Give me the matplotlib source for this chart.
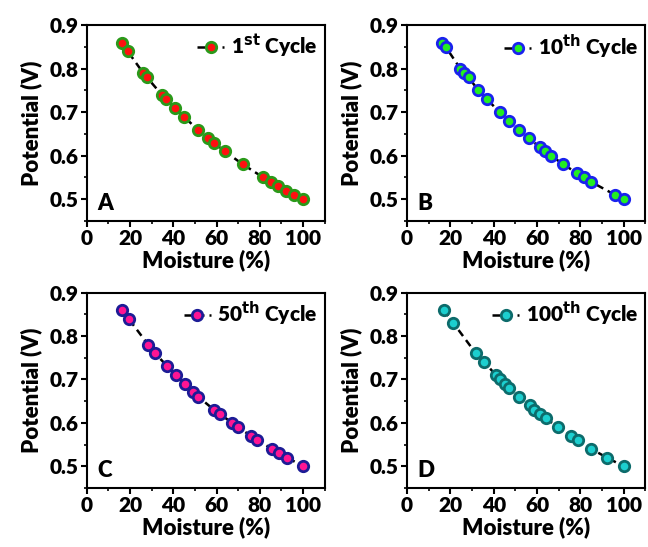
import matplotlib
matplotlib.use("Agg")
import matplotlib.pyplot as plt
from matplotlib.ticker import MultipleLocator

plt.rcParams['font.family'] = ['Lato', 'DejaVu Sans']
plt.rcParams['font.weight'] = 'heavy'
plt.rcParams['mathtext.default'] = 'bf'

# 1st cycle
x_1 = [16.1, 18.9, 26.1, 27.8, 34.7, 36.5, 40.7, 44.9, 51.2, 56.1, 58.6, 63.8,
       72.2, 81.6, 85.0, 88.5, 92.0, 95.7, 100]
y_1 = [0.86, 0.84, 0.79, 0.78, 0.74, 0.73, 0.71, 0.69, 0.66, 0.64, 0.63, 0.61,
       0.58, 0.55, 0.54, 0.53, 0.52, 0.51, 0.50]

# 10th cycle
x_10 = [16.0, 17.9, 24.6, 26.4, 28.4, 33.0, 36.9, 42.7, 47.0, 51.6, 56.2, 61.2,
        63.8, 66.6, 72.1, 78.5, 81.7, 84.9, 96.0, 100]
y_10 = [0.86, 0.85, 0.80, 0.79, 0.78, 0.75, 0.73, 0.70, 0.68, 0.66, 0.64, 0.62,
        0.61, 0.60, 0.58, 0.56, 0.55, 0.54, 0.51, 0.50]

# 50th cycle
x_50 = [16.1, 19.3, 28.4, 31.6, 37.3, 41.1, 45.2, 49.2, 51.6, 58.8, 61.5, 67.3,
        69.7, 76.0, 78.8, 85.7, 88.8, 92.6, 100]
y_50 = [0.86, 0.84, 0.78, 0.76, 0.73, 0.71, 0.69, 0.67, 0.66, 0.63, 0.62, 0.60,
        0.59, 0.57, 0.56, 0.54, 0.53, 0.52, 0.50]

# 100th cycle
x_100 = [16.9, 21.4, 31.8, 35.7, 41.0, 43.0, 45.1, 47.3, 51.8, 56.7, 58.8, 61.4,
         64.0, 69.9, 75.6, 78.7, 85.1, 92.1, 100]
y_100 = [0.86, 0.83, 0.76, 0.74, 0.71, 0.70, 0.69, 0.68, 0.66, 0.64, 0.63, 0.62,
         0.61, 0.59, 0.57, 0.56, 0.54, 0.52, 0.50]

x_ticks = [0, 20, 40, 60, 80, 100]
y_ticks = [0.5, 0.6, 0.7, 0.8, 0.9]

panels = [
    # (rect, x, y, label, letter, face, edge)
    ([0.134, 0.596, 0.367, 0.358], x_1, y_1, r'1$^{\mathbf{st}}$ Cycle', 'A', '#ff1010', '#2a9a1a'),
    ([0.628, 0.596, 0.368, 0.358], x_10, y_10, r'10$^{\mathbf{th}}$ Cycle', 'B', '#22ee22', '#1a22ee'),
    ([0.134, 0.108, 0.367, 0.357], x_50, y_50, r'50$^{\mathbf{th}}$ Cycle', 'C', '#ff1493', '#1c1c96'),
    ([0.628, 0.108, 0.368, 0.357], x_100, y_100, r'100$^{\mathbf{th}}$ Cycle', 'D', '#1ccfcf', '#0d6b6b'),
]

fig = plt.figure(figsize=(6.48, 5.47), dpi=100)

for rect, xs, ys, lab, letter, fc, ec in panels:
    ax = fig.add_axes(rect)
    ax.plot(xs, ys, linestyle=(0, (3, 2)), color='black', linewidth=1.8,
            marker='o', markersize=7.5, markerfacecolor=fc, markeredgecolor=ec,
            markeredgewidth=2, label=lab)
    ax.set_xlim(0, 110)
    ax.set_ylim(0.45, 0.9)
    ax.set_xticks(x_ticks)
    ax.set_yticks(y_ticks)
    ax.xaxis.set_minor_locator(MultipleLocator(10))
    ax.yaxis.set_minor_locator(MultipleLocator(0.05))
    ax.tick_params(which='major', direction='out', length=4, width=1.5,
                   labelsize=15, pad=2)
    ax.tick_params(which='minor', direction='out', length=2.5, width=1.2)
    for lbl in ax.get_xticklabels() + ax.get_yticklabels():
        lbl.set_fontweight('heavy')
    for sp in ax.spines.values():
        sp.set_linewidth(1.5)
    ax.set_xlabel('Moisture (%)', fontsize=16, fontweight='heavy', labelpad=1)
    ax.set_ylabel('Potential (V)', fontsize=16, fontweight='heavy', labelpad=5)
    ax.text(0.045, 0.035, letter, transform=ax.transAxes, fontsize=16,
            fontweight='heavy', ha='left', va='bottom')
    ax.legend(loc='upper right', frameon=False, fontsize=15, handlelength=1.3,
              handletextpad=0.3, borderaxespad=0.05, borderpad=0.3)

fig.savefig('out.png', dpi=100, facecolor='white')
